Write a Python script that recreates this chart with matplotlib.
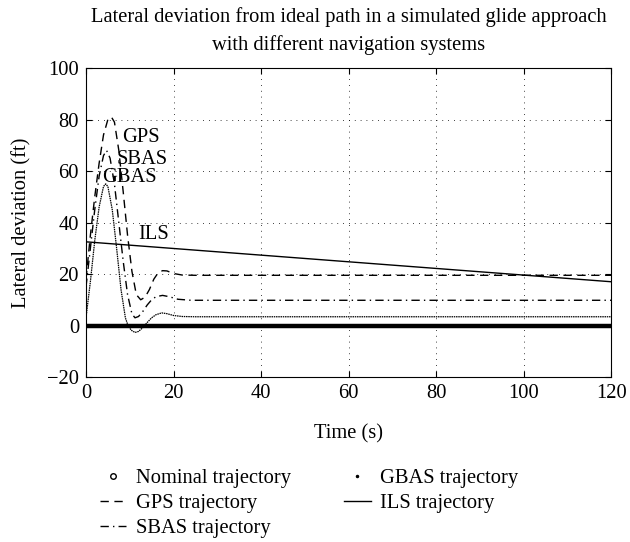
import matplotlib
matplotlib.use('Agg')
import matplotlib.pyplot as plt
from matplotlib.lines import Line2D

plt.rcParams['font.family'] = ['Liberation Serif', 'DejaVu Serif']

FS = 14.8

# valeurs
t_nominal = [0, 120]
nominal = [0, 0]

t_gps = [0, 1, 2, 3, 4, 5, 5.8, 6.5, 7.5, 8.5, 9.5, 10.5, 11.5, 12.5, 13.5,
         14.5, 15.5, 16.5, 17.5, 18.5, 20, 22, 25, 30, 120]
gps = [18, 35, 50, 63, 74, 80, 81, 79, 68, 52, 35, 21, 12, 10, 11,
       14, 18, 20.5, 21.3, 21.2, 20.2, 19.6, 19.5, 19.5, 19.5]

t_sbas = [0, 1, 2, 3, 4, 4.7, 5.5, 6.5, 7.5, 8.5, 9.5, 10.5, 11.2, 12, 13,
          14, 15, 16, 17.5, 19, 21, 24, 30, 120]
sbas = [15, 30, 45, 58, 66, 68, 65, 55, 40, 25, 12, 4.5, 3, 3.5, 5.5,
        8, 10, 11.2, 11.7, 11.2, 10.2, 9.8, 9.8, 9.8]

t_gbas = [0, 1, 2, 3, 4, 4.5, 5, 6, 7, 8, 9, 9.5, 10.3, 11.2, 12, 13, 14,
          15, 16, 17.3, 18.5, 20, 22, 25, 30, 120]
gbas = [3, 17, 33, 46, 54, 55, 54, 45, 30, 14, 3, 0.5, -1.8, -2.7, -2.3, -0.8, 1.2,
        3, 4.2, 4.9, 4.6, 3.9, 3.5, 3.4, 3.4, 3.4]

t_ils = [0, 120]
ils = [32.5, 17]

fig = plt.figure(figsize=(6.3, 5.42), dpi=100)
ax = fig.add_axes([0.1365, 0.3044, 0.8335, 0.5701])

ax.plot(t_nominal, nominal, color='black', lw=3.2, solid_capstyle='butt')
ax.plot(t_gps, gps, color='black', lw=1.0, dashes=(6, 4))
ax.plot(t_sbas, sbas, color='black', lw=1.0, dashes=(6, 3, 1, 3))
ax.plot(t_gbas, gbas, color='black', lw=0.9, dashes=(1.2, 0.6))
ax.plot(t_ils, ils, color='black', lw=1.0)

ax.text(8.3, 73, 'GPS', fontsize=FS, va='center')
ax.text(6.9, 64.5, 'SBAS', fontsize=FS, va='center')
ax.text(3.7, 57.5, 'GBAS', fontsize=FS, va='center')
ax.text(12.0, 35.5, 'ILS', fontsize=FS, va='center')

ax.set_xlim(0, 120)
ax.set_ylim(-20, 100)
ax.set_xticks([0, 20, 40, 60, 80, 100, 120])
ax.set_yticks([-20, 0, 20, 40, 60, 80, 100])
ax.set_yticklabels(['\u221220', '0', '20', '40', '60', '80', '100'])
ax.tick_params(direction='in', top=True, right=True, labelsize=FS, length=4, pad=5)
ax.grid(True, color='black', linestyle=(0, (1, 6)), linewidth=0.6)
for s in ax.spines.values():
    s.set_linewidth(0.8)

ax.set_xlabel('Time (s)', fontsize=FS, labelpad=15)
ax.set_ylabel('Lateral deviation (ft)', fontsize=FS, labelpad=11)
ax.set_title('Lateral deviation from ideal path in a simulated glide approach\n'
             'with different navigation systems', fontsize=FS, pad=13, linespacing=1.55)

handles = [
    Line2D([], [], color='black', marker='o', ls='none', mfc='none', markersize=4, mew=1),
    Line2D([], [], color='black', lw=1.0, dashes=(6, 4)),
    Line2D([], [], color='black', lw=1.0, dashes=(6, 3, 1, 3)),
    Line2D([], [], color='black', marker='.', ls='none', markersize=3),
    Line2D([], [], color='black', lw=1.0),
]
labels = ['Nominal trajectory', 'GPS trajectory', 'SBAS trajectory',
          'GBAS trajectory', 'ILS trajectory']
fig.legend(handles, labels, loc='upper left', bbox_to_anchor=(0.145, 0.15),
           ncol=2, frameon=False, fontsize=FS, handlelength=1.3,
           labelspacing=0.27, columnspacing=2.6, handletextpad=0.45,
           borderaxespad=0)

fig.savefig('out.png', dpi=100)
